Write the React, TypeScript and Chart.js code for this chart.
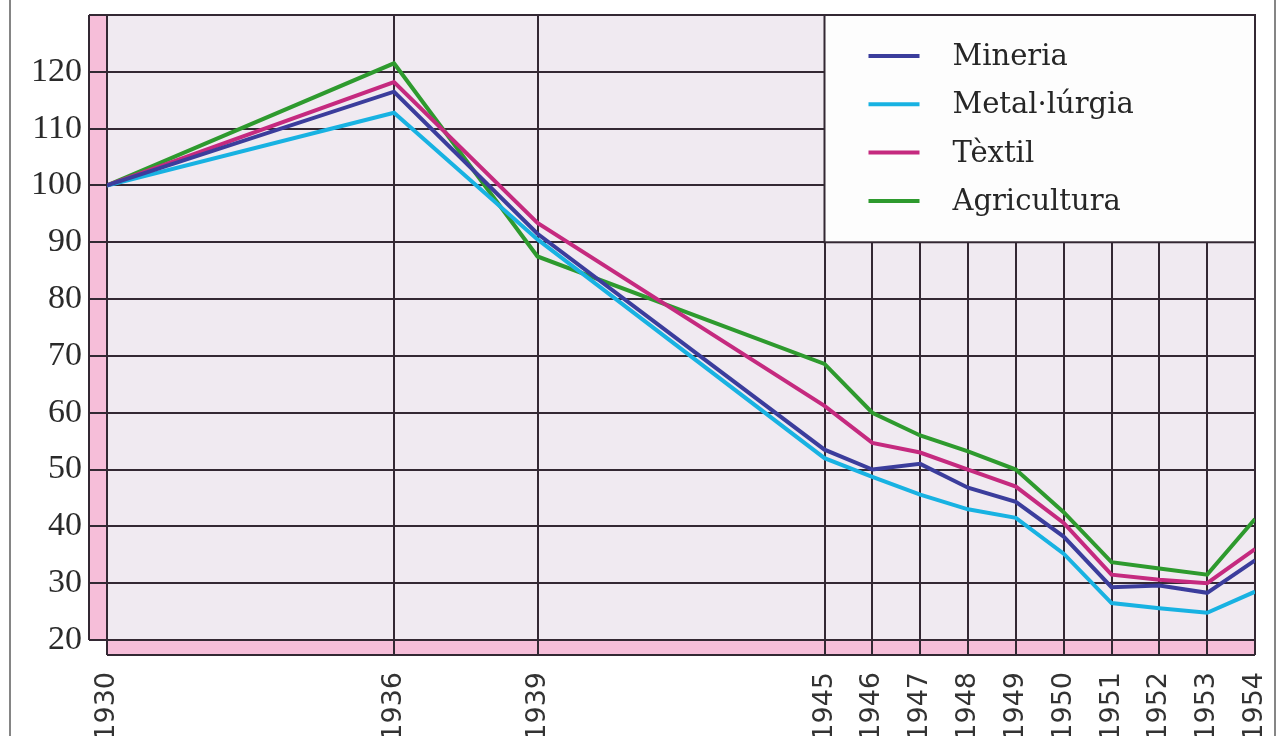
import React, { useEffect, useRef } from "react";
import { Chart, registerables } from "chart.js";

Chart.register(...registerables);

// ---- Data ----
const years = [1930, 1936, 1939, 1945, 1946, 1947, 1948, 1949, 1950, 1951, 1952, 1953, 1954];
const yTickValues = [20, 30, 40, 50, 60, 70, 80, 90, 100, 110, 120, 130];

const seriesNames = ["Mineria", "Metal·lúrgia", "Tèxtil", "Agricultura"];
const mineria = [100, 116.5, 91.5, 53.5, 50, 51, 46.8, 44.3, 38.2, 29.3, 29.6, 28.3, 34];
const metallurgia = [100, 112.8, 90.5, 52, 48.7, 45.6, 43, 41.5, 35.2, 26.5, 25.6, 24.8, 28.5];
const textil = [100, 118.2, 93.4, 61.2, 54.7, 53, 50, 47, 40.6, 31.5, 30.6, 30, 36];
const agricultura = [100, 121.5, 87.5, 68.6, 60, 56, 53.2, 50, 42.5, 33.7, 32.6, 31.5, 41.3];
const seriesValues = [mineria, metallurgia, textil, agricultura];
const seriesColors = ["#3b3d9c", "#18b2e2", "#c52a7f", "#2e9a2e"];

const GRID = "#332833";
const PLOT_BG = "#f0eaf1";
const PINK = "#f6bed9";

const decorPlugin = {
  id: "decor",
  beforeDraw(chart: any) {
    const { ctx, chartArea: a, width, height } = chart;
    ctx.save();
    ctx.fillStyle = "#ffffff";
    ctx.fillRect(0, 0, width, height);
    // outer page frame lines
    ctx.strokeStyle = "#858585";
    ctx.lineWidth = 2;
    ctx.beginPath();
    ctx.moveTo(10, 0);
    ctx.lineTo(10, height);
    ctx.moveTo(width - 10, 0);
    ctx.lineTo(width - 10, height);
    ctx.stroke();
    // plot background
    ctx.fillStyle = PLOT_BG;
    ctx.fillRect(a.left, a.top, a.right - a.left, a.bottom - a.top);
    // pink strips
    ctx.fillStyle = PINK;
    ctx.fillRect(a.left - 18, a.top, 18, a.bottom - a.top);
    ctx.fillRect(a.left, a.bottom, a.right - a.left, 15);
    ctx.strokeStyle = GRID;
    ctx.lineWidth = 2;
    ctx.beginPath();
    ctx.moveTo(a.left - 18, a.top);
    ctx.lineTo(a.left - 18, a.bottom);
    ctx.moveTo(a.left, a.bottom + 15);
    ctx.lineTo(a.right, a.bottom + 15);
    ctx.moveTo(a.right, a.bottom);
    ctx.lineTo(a.right, a.bottom + 15);
    ctx.stroke();
    ctx.restore();
  },
  afterDatasetsDraw(chart: any) {
    const { ctx, chartArea: a, scales } = chart;
    const x0 = scales.x.getPixelForValue(1945);
    const y1 = scales.y.getPixelForValue(90);
    ctx.save();
    ctx.fillStyle = "#fdfdfd";
    ctx.fillRect(x0, a.top, a.right - x0, y1 - a.top);
    ctx.strokeStyle = GRID;
    ctx.lineWidth = 2;
    ctx.strokeRect(x0, a.top, a.right - x0, y1 - a.top);
    ctx.font = "29px 'DejaVu Serif'";
    ctx.fillStyle = "#262626";
    ctx.textBaseline = "alphabetic";
    ctx.textAlign = "left";
    seriesNames.forEach((name, i) => {
      const base = a.top + 50 + i * 48.3;
      ctx.strokeStyle = seriesColors[i];
      ctx.lineWidth = 4;
      ctx.beginPath();
      ctx.moveTo(x0 + 44, base - 9);
      ctx.lineTo(x0 + 95, base - 9);
      ctx.stroke();
      ctx.fillText(name, x0 + 128, base);
    });
    ctx.restore();
  },
};

export default function App() {
  const ref = useRef<HTMLCanvasElement | null>(null);
  useEffect(() => {
    if (!ref.current) return;
    const chart = new Chart(ref.current, {
      type: "line",
      data: {
        datasets: seriesNames.map((name, i) => ({
          label: name,
          data: years.map((yr, j) => ({ x: yr, y: seriesValues[i][j] })),
          borderColor: seriesColors[i],
          backgroundColor: seriesColors[i],
          borderWidth: 4,
          pointRadius: 0,
          tension: 0,
          fill: false,
        })),
      },
      options: {
        responsive: false,
        animation: false,
        events: [],
        layout: { padding: { top: 15, right: 30, left: 0, bottom: 0 } },
        plugins: { legend: { display: false }, tooltip: { enabled: false } },
        scales: {
          x: {
            type: "linear",
            min: 1930,
            max: 1954,
            afterBuildTicks: (scale: any) => {
              scale.ticks = years.map((v) => ({ value: v }));
            },
            afterFit: (scale: any) => {
              scale.height = 96;
              scale.paddingLeft = 0;
              scale.paddingRight = 0;
            },
            grid: { color: GRID, lineWidth: 2, tickLength: 15, tickColor: GRID, drawTicks: true },
            border: { display: true, color: GRID, width: 2 },
            ticks: {
              autoSkip: false,
              minRotation: 90,
              maxRotation: 90,
              padding: 17,
              color: "#333333",
              font: { family: "'DejaVu Sans'", size: 27 },
              callback: (v: any) => String(v),
            },
          },
          y: {
            type: "linear",
            min: 20,
            max: 130,
            afterBuildTicks: (scale: any) => {
              scale.ticks = yTickValues.map((v) => ({ value: v }));
            },
            afterFit: (scale: any) => {
              scale.width = 107;
              scale.paddingTop = 0;
              scale.paddingBottom = 0;
            },
            grid: { color: GRID, lineWidth: 2, tickLength: 18, tickColor: GRID, drawTicks: true },
            border: { display: true, color: GRID, width: 2 },
            ticks: {
              padding: 7,
              color: "#2a2a2a",
              font: { family: "'Liberation Serif'", size: 34 },
              callback: (v: any) => (v === 130 ? "" : String(v)),
            },
          },
        },
      },
      plugins: [decorPlugin],
    });
    return () => chart.destroy();
  }, []);
  return (
    <div style={{ position: "absolute", left: 0, top: 0, width: 1285, height: 736, background: "#fff" }}>
      <canvas ref={ref} width={1285} height={736} style={{ display: "block" }} />
    </div>
  );
}
